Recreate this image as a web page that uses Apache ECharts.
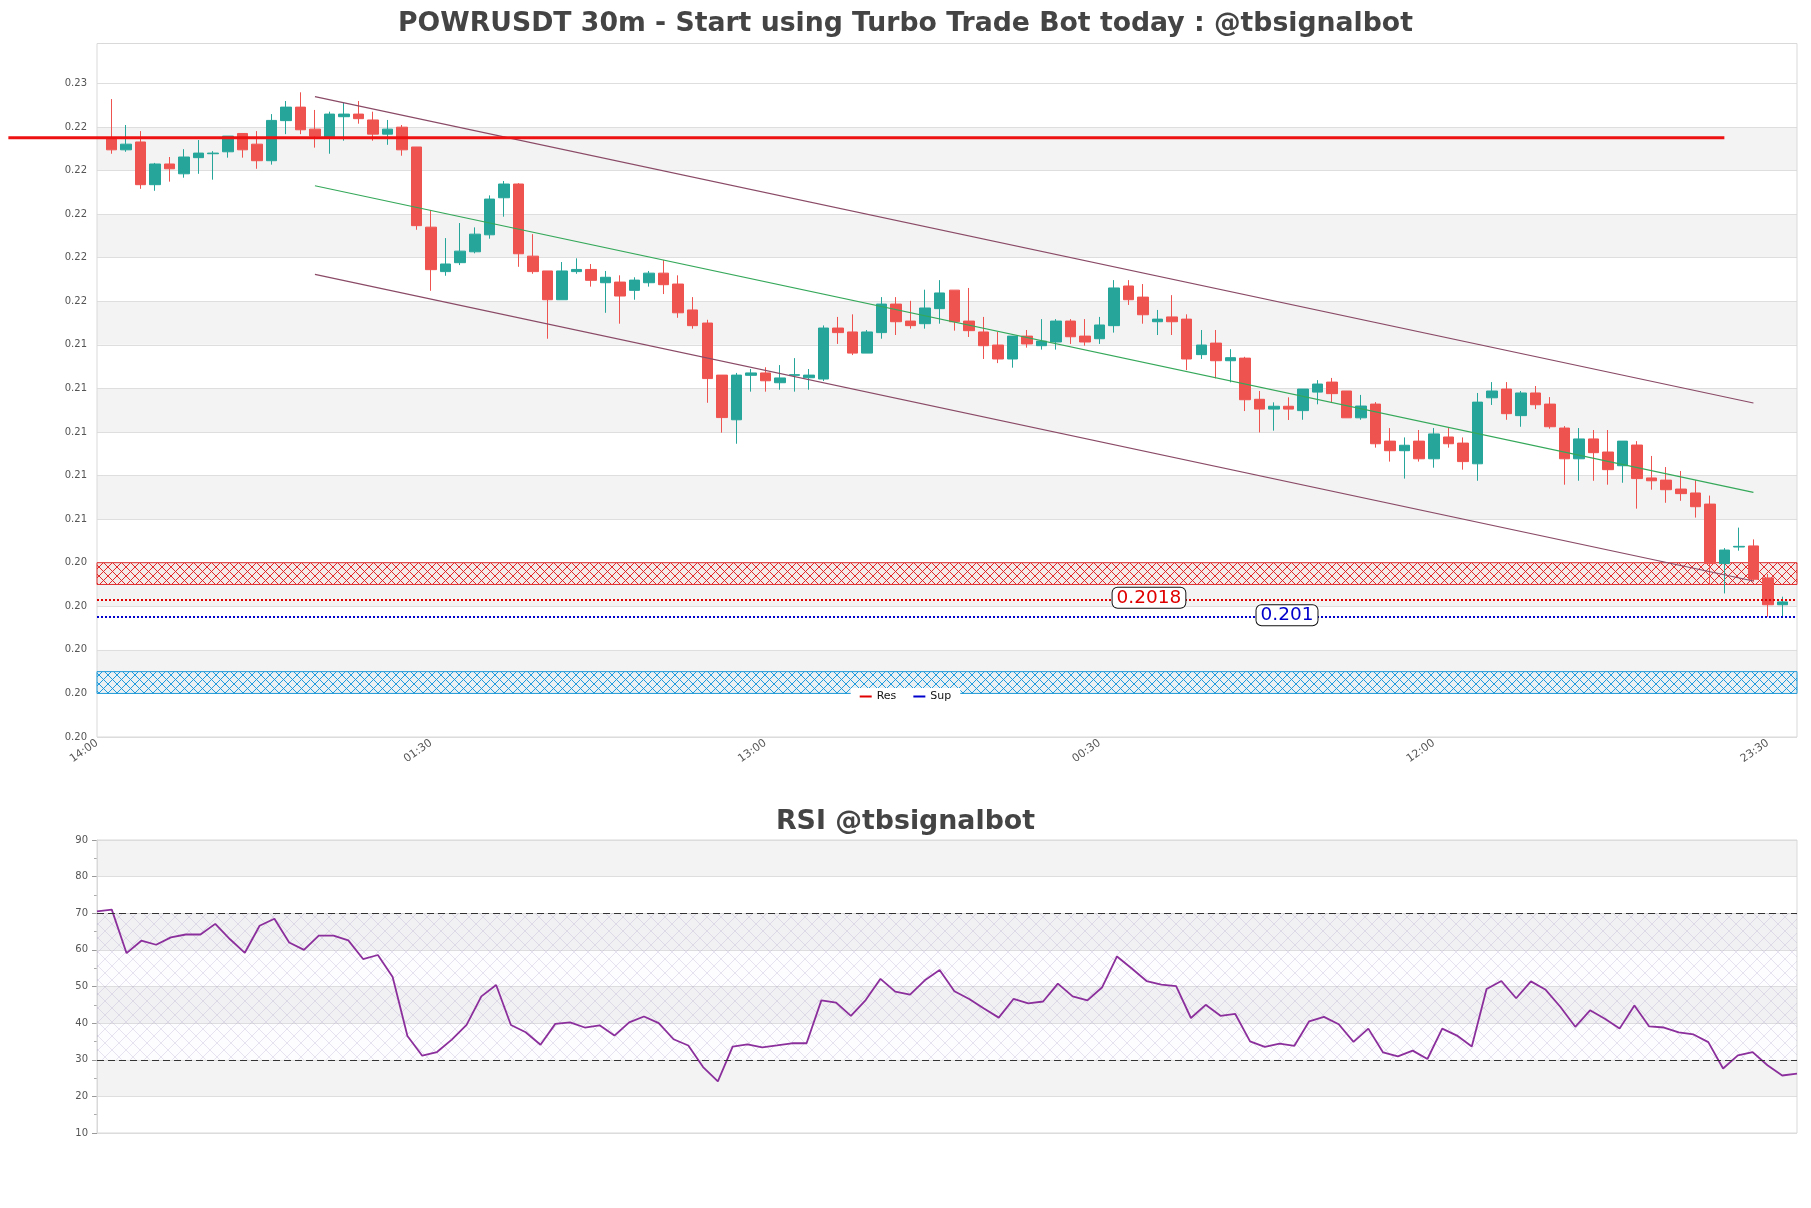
<!DOCTYPE html>
<html>
<head>
<meta charset="utf-8">
<script src="https://cdn.jsdelivr.net/npm/echarts@6/dist/echarts.min.js"></script>
<style>html,body{margin:0;padding:0;background:#fff}#chart{width:1811px;height:1208px}</style>
</head>
<body>
<div id="chart"></div>
<script>
// ---------------- data ----------------
const startTime = '14:00';           // first x-axis slot (empty padding slot)
const slotCount = 118;               // 116 candles + one empty slot at each end

const opens = [
.22300,.22245,.22281,.22085,.22180,.22135,.22209,.22227,.22236,.22320,
.22271,.22195,.22379,.22441,.22340,.22305,.22397,.22409,.22382,.22317,
.22349,.22258,.21890,.21686,.21727,.21777,.21855,.22025,.22088,.21757,
.21689,.21557,.21686,.21696,.21635,.21638,.21600,.21635,.21679,.21629,
.21510,.21450,.21211,.21006,.21210,.21221,.21176,.21210,.21199,.21193,
.21427,.21409,.21312,.21406,.21537,.21459,.21447,.21516,.21601,.21459,
.21409,.21349,.21285,.21390,.21346,.21363,.21459,.21390,.21378,.21438,
.21620,.21569,.21456,.21478,.21468,.21305,.21358,.21277,.21289,.21100,
.21055,.21068,.21048,.21133,.21179,.21138,.21015,.21078,.20908,.20864,
.20908,.20827,.20927,.20899,.20804,.21107,.21147,.21025,.21129,.21078,
.20968,.20827,.20918,.20858,.20795,.20890,.20739,.20729,.20688,.20670,
.20619,.20346,.20422,.20427,.20280,.20157];
const closes = [
.22245,.22271,.22085,.22180,.22158,.22212,.22230,.22230,.22308,.22245,
.22195,.22380,.22441,.22337,.22308,.22409,.22409,.22388,.22317,.22340,
.22245,.21897,.21695,.21721,.21780,.21858,.22019,.22088,.21768,.21686,
.21557,.21689,.21696,.21646,.21660,.21574,.21647,.21679,.21626,.21497,
.21438,.21195,.21016,.21211,.21221,.21185,.21198,.21213,.21211,.21427,
.21406,.21312,.21409,.21537,.21456,.21438,.21519,.21588,.21456,.21415,
.21346,.21285,.21390,.21354,.21367,.21459,.21387,.21363,.21441,.21611,
.21557,.21488,.21468,.21456,.21285,.21349,.21277,.21291,.21098,.21055,
.21068,.21055,.21147,.21170,.21126,.21015,.21069,.20896,.20864,.20889,
.20827,.20941,.20896,.20814,.21087,.21138,.21034,.21129,.21075,.20974,
.20827,.20918,.20855,.20777,.20908,.20736,.20726,.20685,.20667,.20607,
.20346,.20408,.20425,.20274,.20157,.20170];
const lows = [
.22227,.22236,.22066,.22057,.22099,.22117,.22135,.22108,.22209,.22209,
.22158,.22177,.22317,.22317,.22255,.22227,.22287,.22365,.22287,.22268,
.22218,.21878,.21598,.21667,.21716,.21770,.21837,.21938,.21708,.21676,
.21378,.21557,.21676,.21617,.21497,.21447,.21557,.21617,.21583,.21474,
.21424,.21084,.20947,.20896,.21135,.21135,.21144,.21135,.21144,.21184,
.21354,.21303,.21312,.21378,.21395,.21424,.21424,.21447,.21415,.21386,
.21285,.21266,.21245,.21337,.21328,.21328,.21354,.21346,.21354,.21406,
.21533,.21447,.21395,.21395,.21234,.21285,.21196,.21178,.21046,.20948,
.20956,.21005,.21006,.21077,.21086,.21015,.21006,.20878,.20814,.20736,
.20814,.20786,.20878,.20777,.20726,.21074,.21006,.20974,.21055,.20965,
.20708,.20726,.20726,.20708,.20717,.20598,.20685,.20625,.20634,.20557,
.20249,.20209,.20405,.20263,.20102,.20102];
const highs = [
.22478,.22359,.22331,.22185,.22212,.22248,.22290,.22239,.22308,.22320,
.22331,.22409,.22469,.22509,.22428,.22420,.22461,.22469,.22420,.22382,
.22359,.22258,.21969,.21840,.21909,.21889,.22036,.22102,.22092,.21858,
.21689,.21730,.21747,.21721,.21689,.21669,.21660,.21689,.21739,.21669,
.21569,.21465,.21211,.21221,.21239,.21247,.21257,.21289,.21239,.21439,
.21478,.21490,.21418,.21569,.21569,.21552,.21603,.21647,.21601,.21611,
.21478,.21409,.21390,.21418,.21468,.21468,.21468,.21468,.21478,.21647,
.21647,.21629,.21510,.21578,.21490,.21418,.21418,.21330,.21295,.21138,
.21086,.21109,.21147,.21188,.21198,.21138,.21120,.21087,.20968,.20925,
.20959,.20968,.20968,.20925,.21129,.21179,.21179,.21138,.21161,.21110,
.20977,.20968,.20959,.20959,.20908,.20908,.20840,.20789,.20771,.20729,
.20658,.20417,.20511,.20457,.20298,.20194];

const rsiValues = [
70.5,71.0,59.1,62.5,61.4,63.4,64.2,64.2,67.1,62.9,
59.2,66.6,68.5,62.0,60.0,63.9,63.9,62.6,57.5,58.6,
52.6,36.5,31.1,32.1,35.5,39.5,47.3,50.4,39.5,37.5,
34.1,39.8,40.2,38.8,39.4,36.6,40.2,41.8,40.0,35.6,
33.9,28.0,24.1,33.6,34.2,33.4,33.9,34.5,34.5,46.2,
45.6,42.0,46.3,52.1,48.6,47.8,51.7,54.5,48.7,46.6,
44.0,41.5,46.6,45.4,45.9,50.8,47.3,46.2,49.8,58.2,
54.9,51.5,50.5,50.1,41.4,45.0,42.0,42.5,35.0,33.5,
34.4,33.8,40.5,41.7,39.7,34.9,38.5,32.0,30.9,32.5,
30.2,38.5,36.6,33.6,49.3,51.5,46.8,51.4,49.1,44.4,
39.0,43.5,41.2,38.5,44.8,39.1,38.8,37.5,36.9,34.8,
27.6,31.2,32.1,28.5,25.7,26.2];

// trend channel: [slot index, price]
const channelUpper  = [[15, 0.22489], [114, 0.21083]];
const channelMiddle = [[15, 0.22080], [114, 0.20673]];
const channelLower  = [[15, 0.21673], [114, 0.20266]];
const keyLevel = [[-6.1, 0.2230], [112, 0.2230]];   // starts left of the plot area

const resLevel = 0.2018;
const supLevel = 0.201;
const resZone = [0.2025, 0.2035];
const supZone = [0.1975, 0.1985];
const rsiBounds = [30, 70];

const priceAxis = {min: 0.1955, max: 0.22733, interval: 0.002};
const rsiAxis = {min: 10, max: 90, interval: 10};

// ---------------- build ----------------
function pad(n){ return (n < 10 ? '0' : '') + n; }
const [sh, sm] = startTime.split(':').map(Number);
const slotLabels = Array.from({length: slotCount}, (_, i) => {
  const m = (sh * 60 + sm + 30 * i) % 1440;
  return pad(Math.floor(m / 60)) + ':' + pad(m % 60);
});
const candleLabels = slotLabels.slice(1, 1 + opens.length);
const candleData = opens.map((o, i) => [i + 1, o, closes[i], lows[i], highs[i]]);

function hatch(color, size, lw, bg) {
  const c = document.createElement('canvas');
  c.width = size; c.height = size;
  const g = c.getContext('2d');
  if (bg) { g.fillStyle = bg; g.fillRect(0, 0, size, size); }
  g.strokeStyle = color; g.lineWidth = lw;
  g.beginPath();
  g.moveTo(0, 0); g.lineTo(size, size);
  g.moveTo(size, 0); g.lineTo(0, size);
  g.stroke();
  return c;
}
const redHatch = hatch('rgba(225,30,30,0.95)', 9, 1, 'rgba(255,120,100,0.06)');
const blueHatch = hatch('rgba(20,150,220,0.95)', 9, 1, 'rgba(120,200,255,0.06)');
const rsiHatch = hatch('rgba(170,150,200,0.32)', 14, 0.8, 'rgba(200,180,230,0.04)');

const bandCount = Math.round((priceAxis.max - priceAxis.min) / priceAxis.interval + 0.5);
const priceBands = Array.from({length: bandCount}, (_, i) => (i % 2 === 1 && i < bandCount - 1) ? '#f3f3f3' : '#ffffff');

const fontFamily = 'DejaVu Sans';
const labelBox = {backgroundColor: '#fff', borderColor: '#111', borderWidth: 1, borderRadius: 5,
                  padding: [1, 4, 0, 4], fontSize: 18.5, fontFamily, offset: [0, -2]};
const chart = echarts.init(document.getElementById('chart'), null, {renderer: 'canvas'});
chart.setOption({
  animation: false,
  backgroundColor: '#fff',
  textStyle: {fontFamily},
  title: [
    {text: 'POWRUSDT 30m - Start using Turbo Trade Bot today : @tbsignalbot', left: 'center', top: 6,
     textStyle: {fontSize: 26.7, fontWeight: 'bold', color: '#444', fontFamily}},
    {text: 'RSI @tbsignalbot', left: 'center', top: 804,
     textStyle: {fontSize: 26.8, fontWeight: 'bold', color: '#444', fontFamily}}
  ],
  legend: {
    data: ['Res', 'Sup'], left: 'center', top: 688, icon: 'rect', itemWidth: 12, itemHeight: 2, itemGap: 17,
    backgroundColor: '#fff', padding: [3, 9], textStyle: {fontSize: 11, color: '#111', fontFamily}
  },
  grid: [
    {left: 97, right: 14, top: 43.5, height: 693.5, show: true, borderColor: '#d9d9d9', borderWidth: 1, z: 1},
    {left: 97, right: 14, top: 840, height: 293, show: true, borderColor: '#d9d9d9', borderWidth: 1, z: 1}
  ],
  xAxis: [
    {type: 'category', gridIndex: 0, data: slotLabels, boundaryGap: false,
     axisLine: {show: false}, axisTick: {show: false}, splitLine: {show: false},
     axisLabel: {interval: 22, rotate: 35, fontSize: 11, color: '#555', margin: 5}},
    {type: 'category', gridIndex: 1, data: candleLabels, boundaryGap: false,
     axisLine: {show: false}, axisTick: {show: false}, axisLabel: {show: false}, splitLine: {show: false}},
    // hidden numeric twin of the slot axis (same extent), for annotations placed between slots / past the edge
    {type: 'value', gridIndex: 0, min: 0, max: slotCount - 1, show: false}
  ],
  yAxis: [
    {type: 'value', gridIndex: 0, min: priceAxis.min, max: priceAxis.max, interval: priceAxis.interval,
     axisLine: {show: false}, axisTick: {show: false},
     axisLabel: {fontSize: 10, color: '#555', margin: 10, showMaxLabel: false,
       formatter: v => (Math.round(v * 100 + 1e-6) / 100).toFixed(2)},
     splitLine: {lineStyle: {color: '#dedede', width: 1}},
     splitArea: {show: true, areaStyle: {color: priceBands}}},
    {type: 'value', gridIndex: 1, min: rsiAxis.min, max: rsiAxis.max, interval: rsiAxis.interval,
     axisLine: {show: true, lineStyle: {color: '#d9d9d9'}},
     axisTick: {show: true, length: 5, lineStyle: {color: '#999'}},
     minorTick: {show: true, splitNumber: 2, length: 3, lineStyle: {color: '#aaa'}},
     axisLabel: {fontSize: 10, color: '#555', margin: 9},
     splitLine: {lineStyle: {color: '#dedede'}},
     splitArea: {show: true, areaStyle: {color: ['#ffffff', '#f3f3f3']}}}
  ],
  series: [
    {
      name: 'POWRUSDT', type: 'candlestick', xAxisIndex: 0, yAxisIndex: 0,
      data: candleData, encode: {x: 0, y: [1, 2, 3, 4]}, barWidth: 11, z: 2,
      itemStyle: {color: '#26a69a', color0: '#ef5350', borderColor: '#26a69a', borderColor0: '#ef5350',
                  borderColorDoji: '#26a69a', borderWidth: 1}
    },
    {name: 'upper', type: 'line', xAxisIndex: 0, yAxisIndex: 0, data: channelUpper, symbol: 'none', silent: true, z: 3,
     lineStyle: {color: '#8a4a66', width: 1.2}},
    {name: 'middle', type: 'line', xAxisIndex: 0, yAxisIndex: 0, data: channelMiddle, symbol: 'none', silent: true, z: 3,
     lineStyle: {color: '#35a85a', width: 1.2}},
    {name: 'lower', type: 'line', xAxisIndex: 0, yAxisIndex: 0, data: channelLower, symbol: 'none', silent: true, z: 3,
     lineStyle: {color: '#8a4a66', width: 1.2}},
    {
      name: 'Res', type: 'line', xAxisIndex: 2, yAxisIndex: 0, data: [], color: '#e00000',
      itemStyle: {color: '#e00000'}, lineStyle: {color: '#e00000'},
      markArea: {silent: true, itemStyle: {color: {image: redHatch, repeat: 'repeat'}, borderColor: '#e03030', borderWidth: 1},
                 data: [[{yAxis: resZone[0]}, {yAxis: resZone[1]}]]},
      markLine: {silent: true, symbol: 'none', precision: 6, label: {show: false},
                 lineStyle: {color: '#e00000', type: 'dotted', width: 2}, data: [{yAxis: resLevel}]},
      markPoint: {silent: true, symbol: 'rect', symbolSize: 1, itemStyle: {color: 'rgba(0,0,0,0)'},
                  label: Object.assign({show: true, position: 'inside', formatter: String(resLevel), color: '#e00000'}, labelBox),
                  data: [{coord: [72.4, resLevel]}]}
    },
    {
      name: 'Sup', type: 'line', xAxisIndex: 2, yAxisIndex: 0, data: [], color: '#0000cc',
      itemStyle: {color: '#0000cc'}, lineStyle: {color: '#0000cc'},
      markArea: {silent: true, itemStyle: {color: {image: blueHatch, repeat: 'repeat'}, borderColor: '#1f9ad8', borderWidth: 1},
                 data: [[{yAxis: supZone[0]}, {yAxis: supZone[1]}]]},
      markLine: {silent: true, symbol: 'none', precision: 6, label: {show: false},
                 lineStyle: {color: '#0000cc', type: 'dotted', width: 2}, data: [{yAxis: supLevel}]},
      markPoint: {silent: true, symbol: 'rect', symbolSize: 1, itemStyle: {color: 'rgba(0,0,0,0)'},
                  label: Object.assign({show: true, position: 'inside', formatter: String(supLevel), color: '#0000cc'}, labelBox),
                  data: [{coord: [81.9, supLevel]}]}
    },
    {
      name: 'RSI', type: 'line', xAxisIndex: 1, yAxisIndex: 1, data: rsiValues, symbol: 'none', silent: true, z: 3,
      lineStyle: {color: '#8b2f9c', width: 1.8},
      markArea: {silent: true, itemStyle: {color: {image: rsiHatch, repeat: 'repeat'}},
                 data: [[{yAxis: rsiBounds[0]}, {yAxis: rsiBounds[1]}]]},
      markLine: {silent: true, symbol: 'none', label: {show: false},
                 lineStyle: {color: '#333', type: [7, 4], width: 1.2},
                 data: [{yAxis: rsiBounds[1]}, {yAxis: rsiBounds[0]}]}
    }
  ]
});

// key level: endpoints mapped through the chart's own axes (it extends past the left edge of the plot)
const keyFinder = {xAxisIndex: 2, yAxisIndex: 0};
const k0 = chart.convertToPixel(keyFinder, keyLevel[0]);
const k1 = chart.convertToPixel(keyFinder, keyLevel[1]);
chart.setOption({
  graphic: [{
    type: 'line', silent: true, z: 10,
    shape: {x1: k0[0], y1: k0[1], x2: k1[0], y2: k1[1]},
    style: {stroke: '#ee1111', lineWidth: 3}
  }]
});
</script>
</body>
</html>
